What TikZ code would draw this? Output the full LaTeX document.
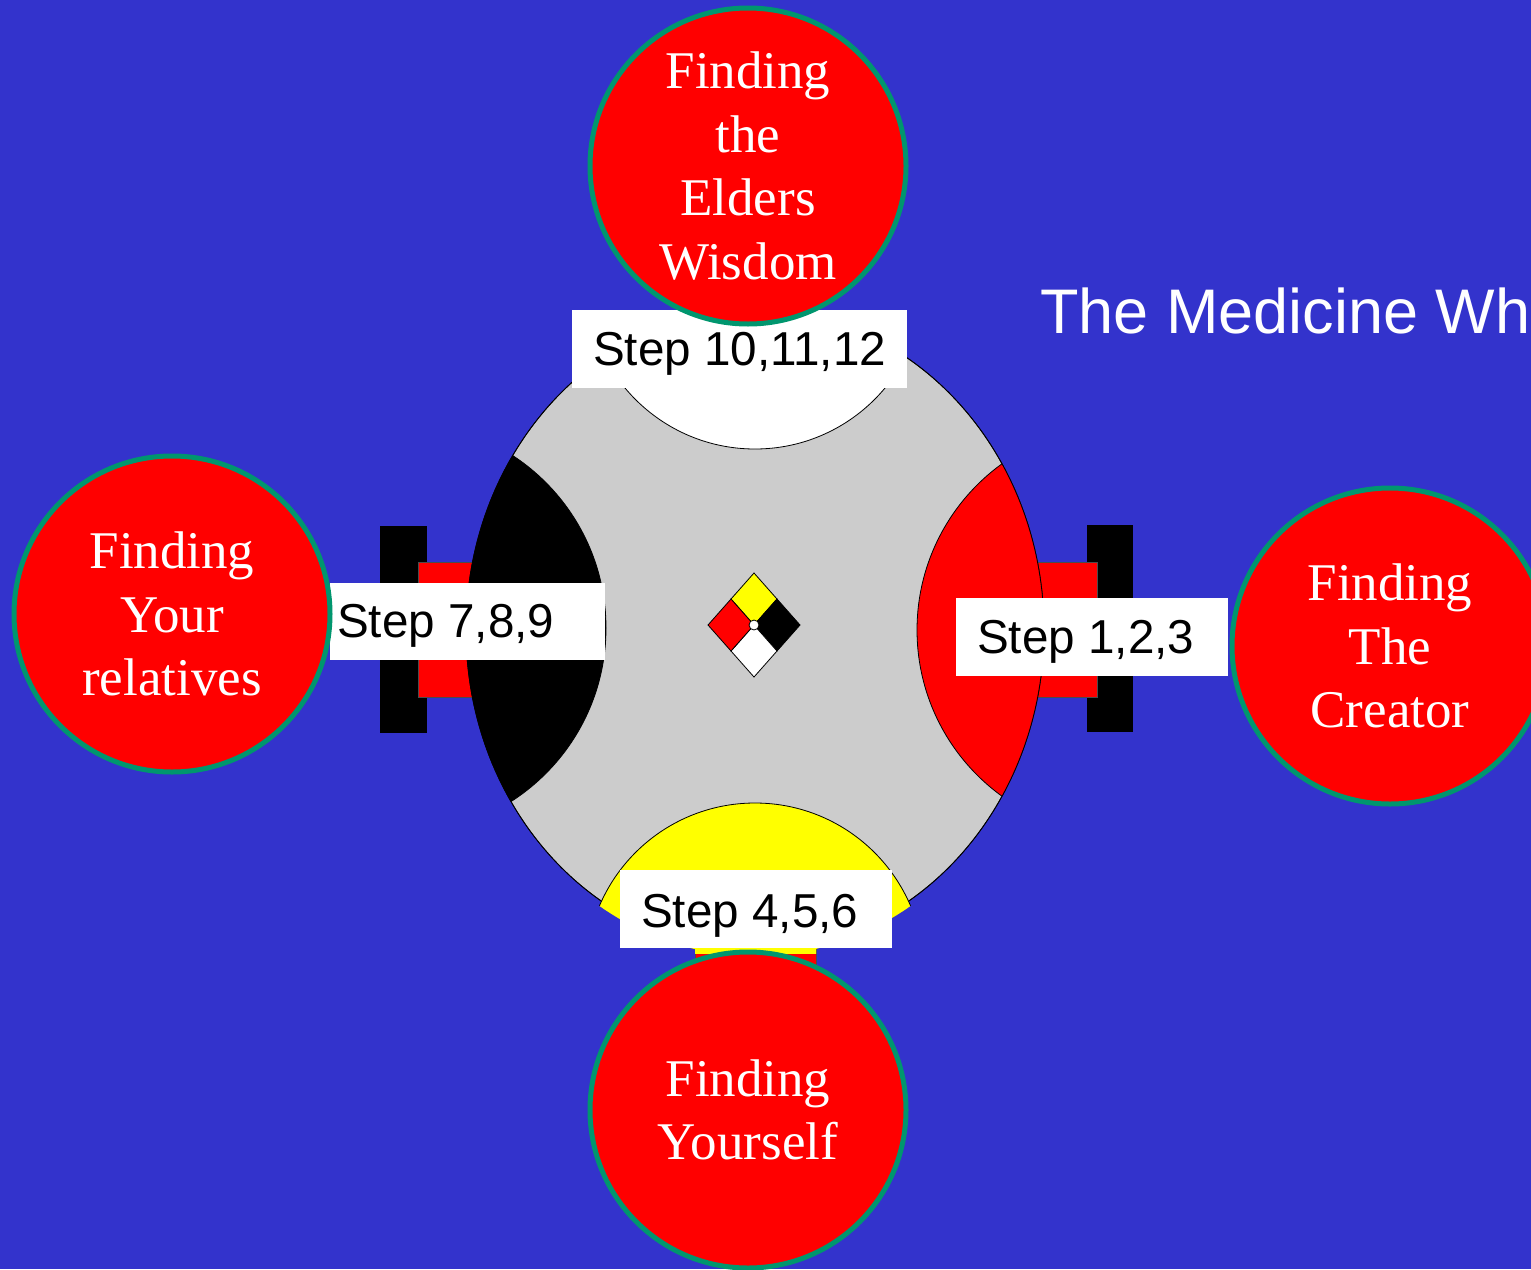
\documentclass[tikz,border=0pt]{standalone}
\usepackage{fontspec}
\setmainfont{Liberation Serif}
\newfontfamily\arialf{Liberation Sans}
\definecolor{bgblue}{RGB}{51,51,204}
\definecolor{wheelgray}{RGB}{204,204,204}
\definecolor{ringgreen}{RGB}{0,150,110}
\definecolor{puryellow}{RGB}{255,255,0}
\begin{document}
\begin{tikzpicture}[x=1pt,y=-1pt,
  stepbox/.style={fill=white, draw=none, inner sep=0pt},
  steptext/.style={font=\arialf\fontsize{47.6}{56}\selectfont, text=black, inner sep=0pt, anchor=base west},
  goal/.style={circle, fill=red, draw=ringgreen, line width=5pt, minimum size=316pt, inner sep=0pt, text=white, align=center, font=\fontsize{53}{63.5}\selectfont},
  bar/.style={fill=black, draw=none},
  stub/.style={fill=red, draw=black!70, line width=0.6pt},
  seg/.style={draw=black, line width=0.8pt},
  quad/.style={draw=black, line width=0.8pt}
]
\useasboundingbox (0,0) rectangle (1531,1269);
\clip (0,0) rectangle (1531,1269);
\fill[bgblue] (0,0) rectangle (1531,1269);

% side bars and red stubs
\fill[bar] (380,526) rectangle (427,733);
\fill[bar] (1087,525) rectangle (1133,732);
\filldraw[stub] (418,562) rectangle (495,697);
\filldraw[stub] (1015,562) rectangle (1097,697);
\filldraw[stub] (695,900) rectangle (816,1000);

% wheel
\filldraw[fill=wheelgray, draw=black, line width=0.8pt] (755,630) ellipse [x radius=289pt, y radius=320pt];
\begin{scope}
  \clip (755,630) ellipse [x radius=289pt, y radius=320pt];
  \filldraw[seg, fill=white] (755,280) circle [radius=169pt];
  \filldraw[seg, fill=black] (400,628) circle [radius=206pt];
  \filldraw[seg, fill=red] (1122,630) circle [radius=205pt];
\end{scope}
\draw[black, line width=0.8pt] (755,630) ellipse [x radius=289pt, y radius=320pt];
\begin{scope}
  \clip (755,630) ellipse [x radius=292pt, y radius=326pt];
  \filldraw[seg, fill=puryellow] (755,972) circle [radius=169pt];
\end{scope}
\begin{scope}
  \clip (695,900) rectangle (816,953);
  \filldraw[seg, fill=puryellow] (755,972) circle [radius=169pt];
\end{scope}

% centre diamond
\filldraw[quad, fill=puryellow] (754,573) -- (777,599) -- (754,625) -- (731,599) -- cycle;
\filldraw[quad, fill=black] (777,599) -- (800,625) -- (777,651) -- (754,625) -- cycle;
\filldraw[quad, fill=white] (754,625) -- (777,651) -- (754,677) -- (731,651) -- cycle;
\filldraw[quad, fill=red] (731,599) -- (754,625) -- (731,651) -- (708,625) -- cycle;
\filldraw[fill=white, draw=black, line width=0.8pt] (754,625) circle [radius=5pt];

% step boxes
\node[stepbox, minimum width=335pt, minimum height=78pt] (b10) at (739.5,349) {};
\node[steptext] (t10) at (593,365) {Step 10,11,12};
\node[stepbox, minimum width=275pt, minimum height=77pt] (b7) at (467.5,621.5) {};
\node[steptext] (t7) at (337,637) {Step 7,8,9};
\node[stepbox, minimum width=272pt, minimum height=78pt] (b1) at (1092,637) {};
\node[steptext] (t1) at (977,653) {Step 1,2,3};
\node[stepbox, minimum width=272pt, minimum height=78pt] (b4) at (756,909) {};
\node[steptext] (t4) at (641,927) {Step 4,5,6};

% goal circles
\node[goal] (elders) at (748,166) {Finding\\the\\Elders\\Wisdom};
\node[goal] (relatives) at (172,614) {Finding\\Your\\relatives};
\node[goal] (creator) at (1390,646) {Finding\\The\\Creator};
\node[goal] (yourself) at (748,1110) {Finding\\Yourself};

% title
\node[font=\arialf\fontsize{63}{70}\selectfont, text=white, inner sep=0pt, anchor=base west] (title) at (1040,333) {The Medicine Wh};
\end{tikzpicture}
\end{document}
